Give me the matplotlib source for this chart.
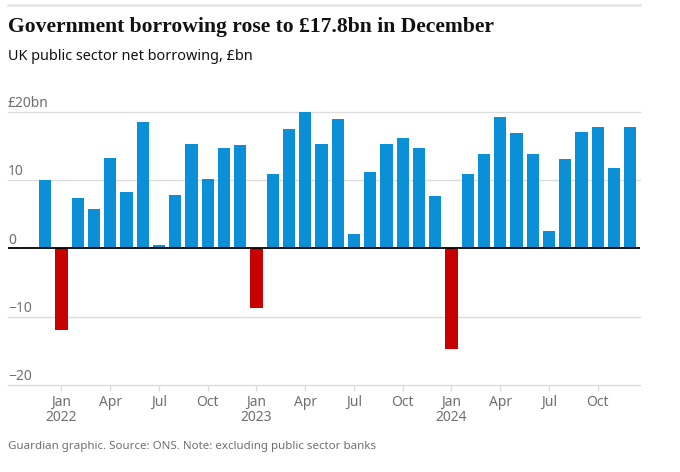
import matplotlib
matplotlib.use("Agg")
import matplotlib.pyplot as plt
from matplotlib.lines import Line2D

months = ["Dec 2021", "Jan 2022", "Feb 2022", "Mar 2022", "Apr 2022", "May 2022", "Jun 2022",
          "Jul 2022", "Aug 2022", "Sep 2022", "Oct 2022", "Nov 2022", "Dec 2022",
          "Jan 2023", "Feb 2023", "Mar 2023", "Apr 2023", "May 2023", "Jun 2023",
          "Jul 2023", "Aug 2023", "Sep 2023", "Oct 2023", "Nov 2023", "Dec 2023",
          "Jan 2024", "Feb 2024", "Mar 2024", "Apr 2024", "May 2024", "Jun 2024",
          "Jul 2024", "Aug 2024", "Sep 2024", "Oct 2024", "Nov 2024", "Dec 2024"]
borrowing = [10.0, -12.0, 7.3, 5.7, 13.2, 8.3, 18.5,
             0.5, 7.8, 15.3, 10.2, 14.7, 15.1,
             -8.8, 10.9, 17.4, 19.9, 15.3, 19.0,
             2.1, 11.2, 15.2, 16.1, 14.7, 7.7,
             -14.7, 10.9, 13.8, 19.2, 16.9, 13.8,
             2.5, 13.1, 17.0, 17.7, 11.8, 17.8]
tick_labels = ["Jan\n2022", "Apr", "Jul", "Oct", "Jan\n2023", "Apr", "Jul", "Oct",
               "Jan\n2024", "Apr", "Jul", "Oct"]
tick_months = ["Jan 2022", "Apr 2022", "Jul 2022", "Oct 2022", "Jan 2023", "Apr 2023",
               "Jul 2023", "Oct 2023", "Jan 2024", "Apr 2024", "Jul 2024", "Oct 2024"]
y_ticks = [-20, -10, 0, 10, 20]
y_tick_labels = ["\u221220", "\u221210", "0", "10", "\u00a320bn"]

title = "Government borrowing rose to \u00a317.8bn in December"
subtitle = "UK public sector net borrowing, \u00a3bn"
footer = "Guardian graphic. Source: ONS. Note: excluding public sector banks"

BLUE = "#0b8fd6"
RED = "#c70000"
GRID = "#dcdcdc"
TEXT_GRAY = "#707070"

fig = plt.figure(figsize=(6.8, 4.72), dpi=100)
ax = fig.add_axes([8/680, 87/472, 632/680, 273.3/472])

x = list(range(len(months)))
colors = [BLUE if v >= 0 else RED for v in borrowing]
ax.bar(x, borrowing, width=0.76, color=colors, zorder=2)

ax.set_xlim(-2.29, 36.6)
ax.set_ylim(-20, 20)
for s in ax.spines.values():
    s.set_visible(False)

for yt in y_ticks:
    if yt == 0:
        continue
    ax.axhline(yt, color=GRID, lw=1, zorder=1, clip_on=False)
ax.axhline(0, color="black", lw=1.3, zorder=3)

ax.set_yticks([])
for yt, lab in zip(y_ticks, y_tick_labels):
    ax.text(0, yt + 0.1, lab, transform=ax.get_yaxis_transform(), ha="left", va="bottom",
            fontsize=10, color=TEXT_GRAY, family="Noto Sans")

tick_pos = [months.index(m) for m in tick_months]
ax.set_xticks(tick_pos)
ax.set_xticklabels(tick_labels, fontsize=10, color=TEXT_GRAY, family="Noto Sans",
                   linespacing=1.0)
ax.tick_params(axis="x", length=4, color=GRID, width=1, pad=3)

# top rule
fig.add_artist(Line2D([8/680, 640/680], [1 - 5/472, 1 - 5/472], color="#e6e6e6", lw=2))

fig.text(8/680, 1 - 27/472, title, fontsize=15.6, fontweight="bold", family="Liberation Serif",
         color="#121212", va="center", ha="left")
fig.text(8/680, 1 - 57/472, subtitle, fontsize=10.4, family="Noto Sans", color="#121212",
         va="center", ha="left")
fig.text(8/680, 1 - 447/472, footer, fontsize=8.3, family="Noto Sans", color=TEXT_GRAY,
         va="center", ha="left")

fig.savefig("out.png", dpi=100)
